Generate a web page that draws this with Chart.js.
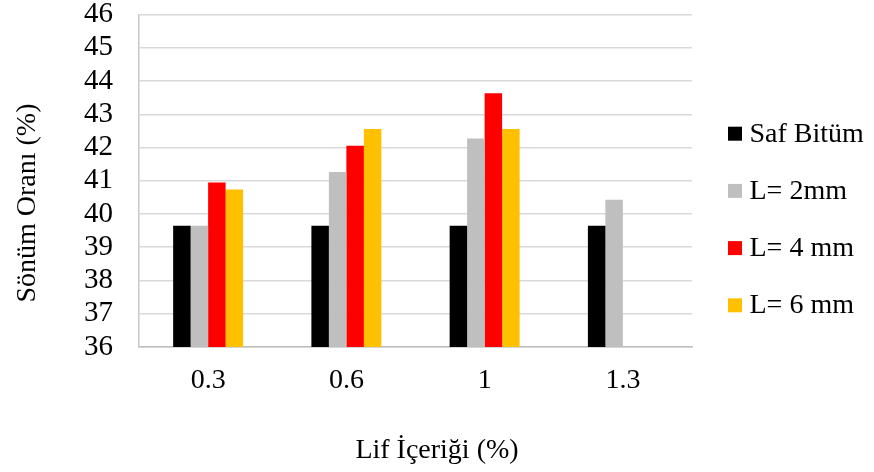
<!DOCTYPE html>
<html>
<head>
<meta charset="utf-8">
<script src="https://cdn.jsdelivr.net/npm/chart.js@4.4.1/dist/chart.umd.min.js"></script>
<style>
  html, body { margin: 0; padding: 0; background: #fff; }
  #wrap { width: 874px; height: 472px; position: relative; }
</style>
</head>
<body>
<div id="wrap"><canvas id="chart"></canvas></div>
<script>
// Damping ratio vs fibre content, grouped by fibre length
const categories = ["0.3", "0.6", "1", "1.3"];
const seriesNames = ["Saf Bitüm", "L= 2mm", "L= 4 mm", "L= 6 mm"];
const safBitum = [39.65, 39.65, 39.65, 39.65];
const len2mm = [39.65, 41.26, 42.27, 40.43];
const len4mm = [40.95, 42.05, 43.63, null];
const len6mm = [40.74, 42.56, 42.56, null];
const seriesColors = ["#000000", "#bfbfbf", "#ff0000", "#ffc000"];
const yMin = 36, yMax = 46, yStep = 1;
const xTitle = "Lif İçeriği (%)";
const yTitle = "Sönüm Oranı (%)";

const FONT = '"Liberation Serif", "Times New Roman", serif';

// axis titles (centred the Excel way) and a right-hand legend column
const decorPlugin = {
  id: "decor",
  afterDraw(chart) {
    const { ctx, chartArea, scales } = chart;
    ctx.save();
    ctx.fillStyle = "#000";
    ctx.font = `28px ${FONT}`;

    // y title, rotated, over plot + category label band
    ctx.save();
    ctx.translate(28, (chartArea.top + scales.x.bottom) / 2 - 3);
    ctx.rotate(-Math.PI / 2);
    ctx.textAlign = "center";
    ctx.textBaseline = "middle";
    ctx.fillText(yTitle, 0, 0);
    ctx.restore();

    // x title, centred on the whole canvas
    ctx.textAlign = "center";
    ctx.textBaseline = "middle";
    ctx.fillText(xTitle, chart.width / 2, chart.height - 21);

    // legend
    const boxX = chartArea.right + 36;
    const textX = chartArea.right + 57.5;
    ctx.textAlign = "left";
    ctx.textBaseline = "alphabetic";
    chart.data.datasets.forEach((ds, i) => {
      const base = 141.7 + i * 57.2;
      ctx.fillStyle = ds.backgroundColor;
      ctx.fillRect(boxX, base - 15, 14, 14);
      ctx.fillStyle = "#000";
      ctx.fillText(ds.label, textX, base);
    });
    ctx.restore();
  }
};

const allSeries = [safBitum, len2mm, len4mm, len6mm];

new Chart(document.getElementById("chart"), {
  type: "bar",
  data: {
    labels: categories,
    datasets: allSeries.map((d, i) => ({
      label: seriesNames[i],
      data: d,
      backgroundColor: seriesColors[i],
      borderWidth: 0,
      categoryPercentage: 0.506,
      barPercentage: 1
    }))
  },
  options: {
    responsive: true,
    maintainAspectRatio: false,
    animation: false,
    layout: { padding: { left: 84, top: 0, right: 182, bottom: 74.4 } },
    scales: {
      x: {
        grid: {
          display: true,
          drawOnChartArea: false,
          drawTicks: true,
          tickLength: 17,
          tickColor: "rgba(0,0,0,0)"
        },
        border: { display: true, color: "#bfbfbf", width: 1.5 },
        ticks: { color: "#000", font: { family: FONT, size: 28, lineHeight: 1.2 }, padding: 0 }
      },
      y: {
        min: yMin,
        max: yMax,
        grid: {
          color: "#d9d9d9",
          lineWidth: 1.5,
          drawTicks: true,
          tickLength: 26,
          tickColor: "rgba(0,0,0,0)"
        },
        border: { display: true, color: "#c8c8c8", width: 1.5 },
        ticks: {
          stepSize: yStep,
          autoSkip: false,
          color: "#000",
          font: { family: FONT, size: 29, lineHeight: 1 },
          padding: 0
        }
      }
    },
    plugins: {
      legend: { display: false },
      title: { display: false },
      tooltip: { enabled: false }
    }
  },
  plugins: [decorPlugin]
});
</script>
</body>
</html>
